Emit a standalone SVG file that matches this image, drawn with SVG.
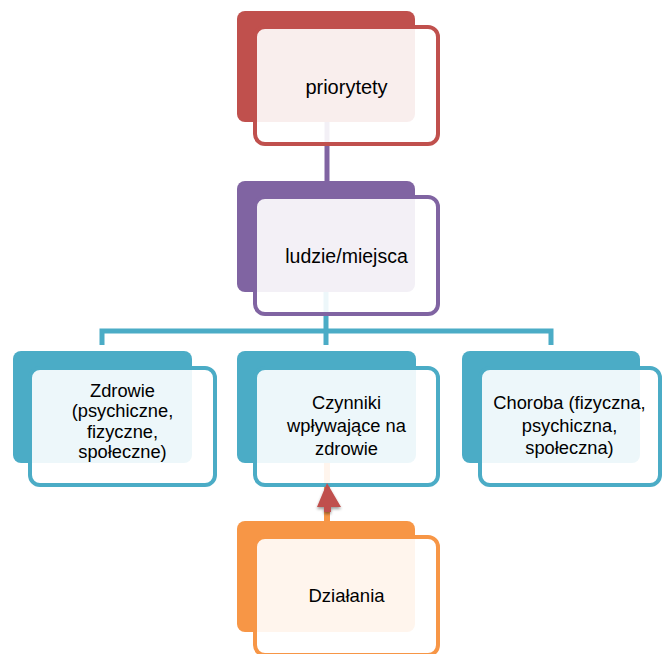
<svg xmlns="http://www.w3.org/2000/svg" width="663" height="654" viewBox="0 0 663 654">
<defs>
<style>
.back{rx:8px;ry:8px}
.front{fill:#ffffff;fill-opacity:0.9;stroke-width:4}
.t{font-family:"Liberation Sans",Arial,sans-serif;fill:#000;text-anchor:middle}
.red .back{fill:#C0504D}.red .front{stroke:#C0504D}
.pur .back{fill:#8064A2}.pur .front{stroke:#8064A2}
.teal .back{fill:#4BACC6}.teal .front{stroke:#4BACC6}
.org .back{fill:#F79646}.org .front{stroke:#F79646}
</style>
<filter id="sh" x="-50%" y="-50%" width="200%" height="200%">
<feGaussianBlur in="SourceAlpha" stdDeviation="1.5"/>
<feOffset dx="0" dy="2" result="b"/>
<feComponentTransfer><feFuncA type="linear" slope="0.4"/></feComponentTransfer>
<feMerge><feMergeNode/><feMergeNode in="SourceGraphic"/></feMerge>
</filter>
</defs>
<rect width="663" height="654" fill="#ffffff"/>
<g id="connectors" fill="none">
<line x1="327" y1="122" x2="327" y2="181" stroke="#8064A2" stroke-width="5"/>
<line x1="326" y1="292" x2="326" y2="345" stroke="#4BACC6" stroke-width="5"/>
<polyline points="102,345 102,331 551,331 551,345" stroke="#4BACC6" stroke-width="5"/>
<line x1="327" y1="521" x2="327" y2="463" stroke="#F79646" stroke-width="6"/>
</g>
<g id="node-priorytety" class="red">
<rect class="back" x="237" y="11" width="178" height="111"/>
<rect class="front" x="255" y="27" width="183" height="117" rx="10"/>
<text class="t" x="346.5" y="94" font-size="20">priorytety</text>
</g>
<g id="node-ludzie" class="pur">
<rect class="back" x="237" y="181" width="178" height="111"/>
<rect class="front" x="255" y="197" width="183" height="117" rx="10"/>
<text class="t" x="346.5" y="263" font-size="19.5">ludzie/miejsca</text>
</g>
<g id="node-zdrowie" class="teal">
<rect class="back" x="13" y="351" width="179" height="112"/>
<rect class="front" x="30" y="368" width="185" height="117" rx="10"/>
<text class="t" x="122.5" font-size="18.3"><tspan x="122.5" y="396.5">Zdrowie</tspan><tspan x="122.5" y="417">(psychiczne,</tspan><tspan x="122.5" y="437.5">fizyczne,</tspan><tspan x="122.5" y="458">społeczne)</tspan></text>
</g>
<g id="node-czynniki" class="teal">
<rect class="back" x="237" y="351" width="179" height="112"/>
<rect class="front" x="255" y="368" width="183" height="117" rx="10"/>
<text class="t" x="346.5" font-size="18.3"><tspan x="346.5" y="409">Czynniki</tspan><tspan x="346.5" y="432">wpływające na</tspan><tspan x="346.5" y="455">zdrowie</tspan></text>
</g>
<g id="node-choroba" class="teal">
<rect class="back" x="462" y="351" width="178" height="112"/>
<rect class="front" x="480" y="368" width="180" height="117" rx="10"/>
<text class="t" x="569.5" font-size="18.3"><tspan x="569.5" y="409">Choroba (fizyczna,</tspan><tspan x="569.5" y="431.5">psychiczna,</tspan><tspan x="569.5" y="454">społeczna)</tspan></text>
</g>
<g id="node-dzialania" class="org">
<rect class="back" x="237" y="521" width="178" height="111"/>
<rect class="front" x="255" y="537" width="183" height="118" rx="10"/>
<text class="t" x="346.5" y="602" font-size="18.5">Działania</text>
</g>
<g id="arrow">
<polygon points="327,483 341,507 331,507 331,512 324,512 324,507 317,507" fill="#C0504D" filter="url(#sh)"/>
</g>
</svg>
